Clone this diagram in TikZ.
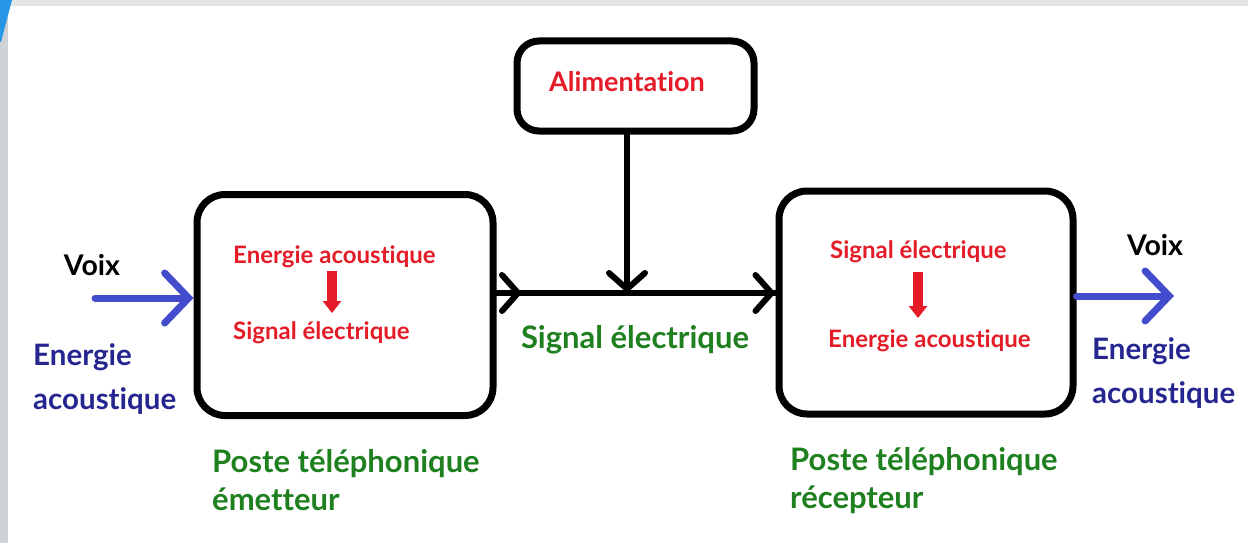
\documentclass[tikz,border=0pt]{standalone}
\usepackage{fontspec}
\setmainfont{Lato}[Ligatures=NoCommon]
\usetikzlibrary{arrows.meta}
\definecolor{rd}{RGB}{228,28,40}
\definecolor{gr}{RGB}{30,128,30}
\definecolor{navy}{RGB}{38,38,145}
\definecolor{ablue}{RGB}{66,76,205}
\definecolor{edgegray}{RGB}{206,210,214}
\definecolor{topgray}{RGB}{226,228,230}
\definecolor{slv}{RGB}{40,150,230}
\tikzset{
  blockbox/.style={draw=black, line width=7pt, rounded corners=28pt, inner sep=0pt},
  wire/.style={line width=6pt, line cap=round, -{Straight Barb[length=16pt,width=36pt,line cap=round]}},
  bluearrow/.style={draw=ablue, line width=7pt, line cap=round, -{Straight Barb[length=24pt,width=50pt,line cap=round]}},
  redarrow/.style={draw=rd, line width=10pt, -{Triangle[length=12pt,width=18pt]}},
  redtxt/.style={text=rd, font=\bfseries\fontsize{24}{28}\selectfont, inner sep=0pt},
  greentxt/.style={text=gr, font=\bfseries\fontsize{31}{38}\selectfont, inner sep=0pt, align=left},
  bluetxt/.style={text=navy, font=\bfseries\fontsize{29.5}{44}\selectfont, inner sep=0pt, align=left},
  voixtxt/.style={text=black, font=\bfseries\fontsize{28.5}{30}\selectfont, inner sep=0pt}
}
\begin{document}
\begin{tikzpicture}[x=1pt,y=-1pt]
\useasboundingbox (0,0) rectangle (1248,543);
\fill[white] (0,0) rectangle (1248,543);
% frame strips
\fill[topgray] (0,0) rectangle (1248,6);
\fill[edgegray] (0,0) rectangle (8,543);
\fill[slv] (0,0) -- (12,0) -- (1,42) -- (0,42) -- cycle;

% boxes
\node[blockbox, minimum width=296pt, minimum height=221pt] (emit) at (345,305) {};
\node[blockbox, minimum width=294pt, minimum height=223pt] (recv) at (926,302.5) {};
\node[blockbox, rounded corners=22pt, minimum width=237pt, minimum height=90pt] (alim) at (635.5,86) {};
\node[text=rd, font=\bfseries\fontsize{27}{30}\selectfont, inner sep=0pt] (alimtxt) at (627,82) {Alimentation};

% wiring
\coordinate (junc) at (627,293);
\coordinate (midtip) at (522,293);
\draw[line width=6pt] (emit.east |- junc) -- (recv.west |- junc);
\draw[wire] (emit.east |- junc) -- (midtip);
\draw[wire] (midtip) -- (recv.west |- junc);
\draw[wire] (alim.south -| junc) -- (junc);

% blue arrows
\coordinate (inL) at (95,298);
\coordinate (outR) at (1174,296);
\draw[bluearrow] (inL) -- (emit.west |- inL);
\draw[bluearrow] (recv.east |- outR) -- (outR);

% outer labels
\node[voixtxt] (voixL) at (92,265) {Voix};
\node[bluetxt, anchor=north west] (eaL) at (33,343) {Energie\\acoustique};
\node[voixtxt] (voixR) at (1155,245) {Voix};
\node[bluetxt, anchor=north west] (eaR) at (1092,337) {Energie\\acoustique};

% inner texts
\node[redtxt, anchor=west] (e1) at (233,257) {Energie acoustique};
\node[redtxt, anchor=west] (s1) at (233,333) {Signal électrique};
\draw[redarrow] (332,271) -- (332,313);
\node[redtxt, anchor=west] (s2) at (830,252) {Signal électrique};
\node[redtxt, anchor=west] (e2) at (828,341) {Energie acoustique};
\draw[redarrow] (918,272) -- (918,318);

% green labels
\node[greentxt] (sig) at (635,340) {Signal électrique};
\node[greentxt, anchor=north west] (pe) at (212,449) {Poste téléphonique\\émetteur};
\node[greentxt, anchor=north west] (pr) at (790,447) {Poste téléphonique\\récepteur};
\end{tikzpicture}
\end{document}
